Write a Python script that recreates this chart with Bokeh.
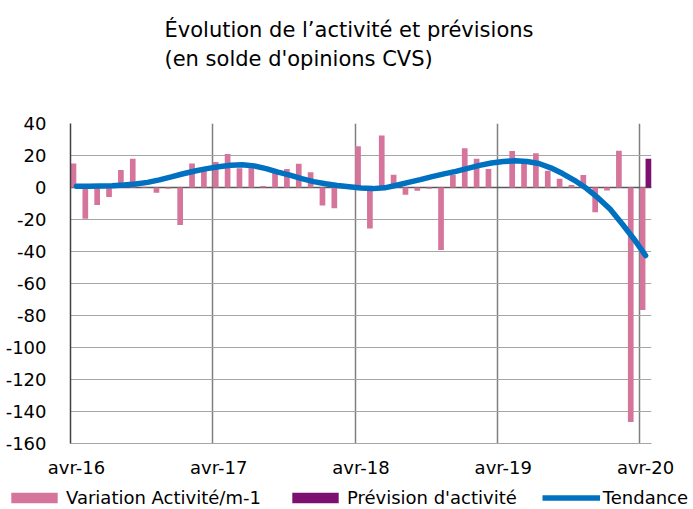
from bokeh.plotting import figure
from bokeh.layouts import column
from bokeh.models import (Range1d, FixedTicker, Legend, LegendItem, Span)
from bokeh.core.properties import value
from bokeh.embed import file_html
from bokeh.resources import INLINE

# ---- data ----
title_lines = ["Évolution de l\u2019activité et prévisions", "(en solde d'opinions CVS)"]
tick_labels = ["avr-16", "avr-17", "avr-18", "avr-19", "avr-20"]
tick_month_index = [0, 12, 24, 36, 48]
y_ticks = [-160, -140, -120, -100, -80, -60, -40, -20, 0, 20, 40]

variation = [15, -19.5, -11, -6, 11, 18, 0.5, -3.3, -0.8, -23.5, 15, 10.5,
             16, 21, 12, 12, 1, 9.5, 11.5, 14.8, 9.6, -11.3, -13, 0,
             25.8, -25.6, 32.5, 8, -4.6, -2, -0.8, -39, 8, 24.5, 18, 11.5,
             0, 22.8, 15, 21.4, 10.4, 5.5, 1.5, 7.8, -15.4, -1.8, 23, -146.5,
             -76.5]
prevision_month_index = [48]
prevision = [18]
tendance = [0.8, 0.8, 0.9, 1.1, 1.5, 2.2, 3.2, 4.8, 6.6, 8.6, 10.3, 11.8,
            13.0, 13.9, 14.2, 13.5, 11.8, 9.6, 7.7, 5.5, 3.7, 2.3, 1.3, 0.5,
            -0.3, -0.7, -0.2, 1.4, 3.2, 4.9, 6.8, 8.5, 10.1, 12.0, 13.8, 15.3,
            16.2, 16.7, 16.3, 15.0, 12.3, 8.7, 4.5, -0.5, -6.5, -13.5, -22.5, -32.0,
            -42.5]
legend_labels = ["Variation Activité/m-1", "Prévision d'activité", "Tendance"]

PINK = "#D5759B"
PURPLE = "#7B1070"
BLUE = "#0070C0"
FONT = "DejaVu Sans"
FS = "18px"
W = 693

n = len(variation)
months = list(range(n))

# ---------------- title block ----------------
TH = 80
pt = figure(width=W, height=TH, output_backend="svg", toolbar_location=None,
            x_range=Range1d(0, W), y_range=Range1d(TH, 0),
            x_axis_location=None, y_axis_location=None, min_border=0,
            frame_align=False)
pt.outline_line_color = None
pt.grid.visible = False
pt.text(x=[164, 164], y=[29, 58], text=title_lines,
        text_font=value(FONT), text_font_size="21px", text_color="black",
        text_align="left", text_baseline="middle")

# ---------------- main chart ----------------
MH = 405
p = figure(width=W, height=MH, output_backend="svg", toolbar_location=None,
           x_range=Range1d(0, n), y_range=Range1d(-160, 40),
           min_border_left=70, min_border_right=42, min_border_top=123 - TH,
           min_border_bottom=MH - (123 - TH) - 320, frame_align=False)
p.outline_line_color = None

p.yaxis.ticker = FixedTicker(ticks=y_ticks)
p.yaxis.major_label_overrides = {t: str(t) for t in y_ticks}
p.yaxis.major_tick_line_color = None
p.yaxis.minor_tick_line_color = None
p.yaxis.axis_line_color = "#404040"
p.yaxis.axis_line_width = 1.5
p.yaxis.major_label_text_font = FONT
p.yaxis.major_label_text_font_size = FS
p.yaxis.major_label_text_color = "black"
p.yaxis.major_label_standoff = 18

p.xaxis.ticker = FixedTicker(ticks=[m + 0.5 for m in tick_month_index])
p.xaxis.major_label_overrides = {m + 0.5: lab for m, lab in zip(tick_month_index, tick_labels)}
p.xaxis.major_tick_line_color = None
p.xaxis.minor_tick_line_color = None
p.xaxis.axis_line_color = "#A6A6A6"
p.xaxis.major_label_text_font = FONT
p.xaxis.major_label_text_font_size = FS
p.xaxis.major_label_text_color = "black"
p.xaxis.major_label_standoff = 7

p.ygrid.ticker = FixedTicker(ticks=y_ticks)
p.ygrid.grid_line_color = "#A6A6A6"
p.ygrid.grid_line_width = 1.2
p.xgrid.ticker = FixedTicker(ticks=tick_month_index)
p.xgrid.grid_line_color = "#7F7F7F"
p.xgrid.grid_line_width = 1.5

p.add_layout(Span(location=0, dimension="width", line_color="#595959",
                  line_width=1.5, level="underlay"))

p.vbar(x=[m + 0.25 for m in months], top=variation, bottom=0, width=0.48,
       fill_color=PINK, line_color=None)
p.vbar(x=[m + 0.75 for m in prevision_month_index], top=prevision, bottom=0,
       width=0.5, fill_color=PURPLE, line_color=None)
p.line(x=[m + 0.5 for m in months], y=tendance, line_color=BLUE,
       line_width=5.5, line_cap="round", line_join="round")

# ---------------- legend block ----------------
LH = 509 - TH - MH
pl = figure(width=W, height=LH, output_backend="svg", toolbar_location=None,
            x_range=Range1d(0, 1), y_range=Range1d(0, 1),
            x_axis_location=None, y_axis_location=None, min_border=0,
            frame_align=False)
pl.outline_line_color = None
pl.grid.visible = False
# legend-only renderers (their single point lies outside the visible range)
l1 = pl.vbar(x=[5], top=[1], width=0.5, fill_color=PINK, line_color=None)
l2 = pl.vbar(x=[5], top=[1], width=0.5, fill_color=PURPLE, line_color=None)
l3 = pl.line(x=[5, 6], y=[1, 1], line_color=BLUE, line_width=5.5)
legend = Legend(items=[LegendItem(label=legend_labels[0], renderers=[l1]),
                       LegendItem(label=legend_labels[1], renderers=[l2]),
                       LegendItem(label=legend_labels[2], renderers=[l3])],
                location=(5, 1), orientation="horizontal", padding=0, margin=0,
                spacing=25, label_standoff=3, glyph_width=58, glyph_height=13,
                label_text_font=FONT, label_text_font_size=FS,
                label_text_color="black",
                border_line_color=None, background_fill_alpha=0)
pl.add_layout(legend, "center")

layout = column(pt, p, pl, spacing=0)

open("out.html", "w").write(file_html(layout, INLINE))
